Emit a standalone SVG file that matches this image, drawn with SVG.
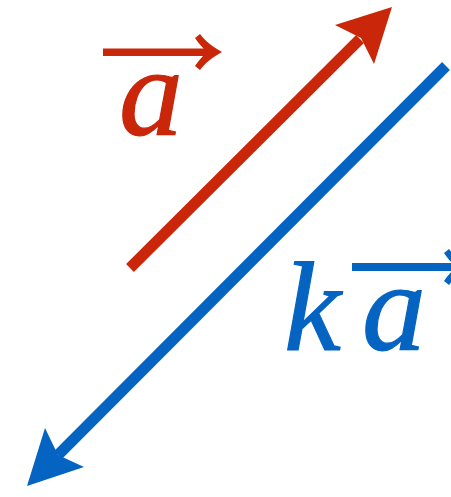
<svg xmlns="http://www.w3.org/2000/svg" width="451" height="497" viewBox="0 0 451 497">
<style>
.red{fill:#C9260A}
.blue{fill:#0564C2}
.rs{stroke:#C9260A}
.bs{stroke:#0564C2}
.shaft{stroke-width:11;fill:none}
.lbl{font-family:"Liberation Serif","Times New Roman",serif;font-style:italic;font-size:128px;stroke-width:1.2}
</style>
<defs>
<path id="vhead" d="M0,0 C-9,-5 -17,-11 -22,-18 L-27,-14 C-23,-8 -19,-4 -15,0 C-19,4 -23,8 -27,14 L-22,18 C-17,11 -9,5 0,0 Z"/>
</defs>
<g id="connectors">
<g id="red-arrow">
<line class="rs shaft" x1="130" y1="268" x2="360" y2="39"/>
<path class="red" d="M392,7 L335,25 L361,38 L374,64 Z"/>
</g>
<g id="blue-arrow">
<line class="bs shaft" x1="446" y1="66" x2="58" y2="455"/>
<path class="blue" d="M27,486 L45,428 L58,455 L84,467 Z"/>
</g>
</g>
<g id="label-a">
<rect class="red" x="103" y="48.5" width="104" height="7.5"/>
<use href="#vhead" class="red" x="222" y="52"/>
<text class="lbl red rs" x="119" y="135">a</text>
</g>
<g id="label-ka">
<text class="lbl blue bs" x="284" y="350">k</text>
<rect class="blue" x="352" y="263" width="104" height="8"/>
<use href="#vhead" class="blue" x="471" y="267"/>
<text class="lbl blue bs" x="362" y="350">a</text>
</g>
</svg>
